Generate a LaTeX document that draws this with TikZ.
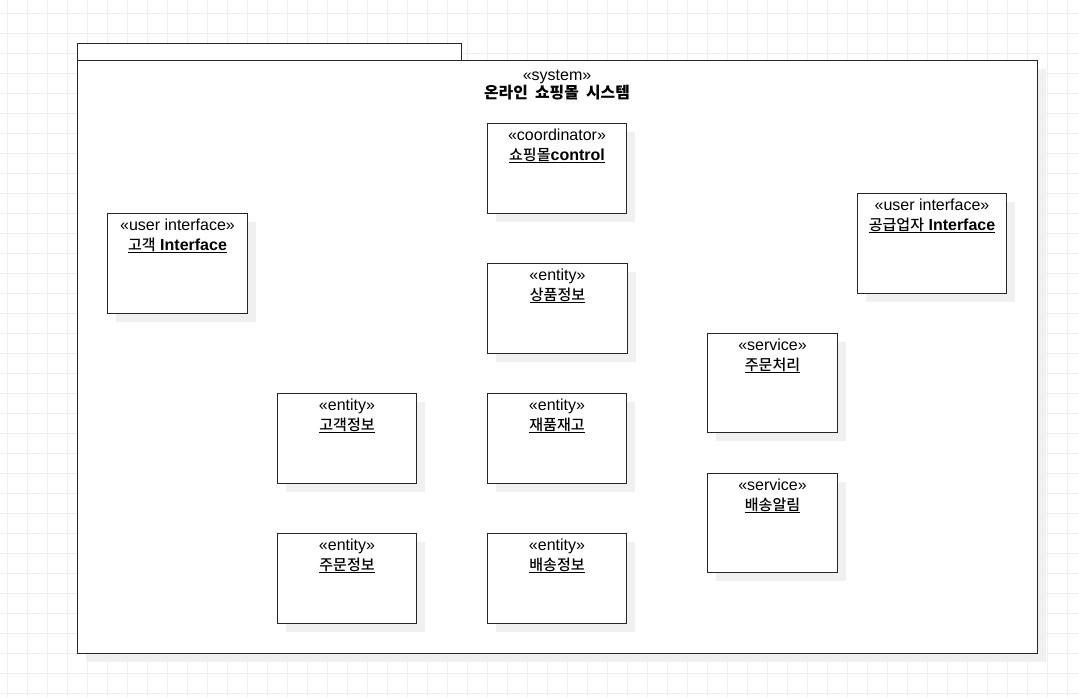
\documentclass[tikz,border=0pt]{standalone}
\usepackage{fontspec}
\setmainfont{Liberation Sans}
\newfontfamily\kr[Scale=0.94, UprightFont={* Medium}]{Noto Sans CJK KR}
\newfontfamily\krtitle[Scale=0.99, WordSpace=2]{Noto Sans CJK KR}
\usetikzlibrary{shadows}

\definecolor{gridgray}{HTML}{EEEEEE}
\definecolor{shadowgray}{HTML}{F0F0F0}

\newcommand{\txtsize}{\fontsize{16}{19}\selectfont}

\tikzset{
  gridline/.style={draw=gridgray, line width=1pt},
  obj/.style={draw=black!85, fill=white, line width=1pt, anchor=north west,
    inner sep=0pt, general shadow={fill=shadowgray, shadow xshift=8pt, shadow yshift=-8pt}},
  stereo/.style={label={[anchor=base, yshift=-17pt, inner sep=0pt, font=\txtsize]north:{«#1»}}},
  objname/.style={label={[anchor=base, yshift=-37pt, inner sep=0pt, font=\txtsize\bfseries]north:{\underline{#1}}}},
}

\begin{document}
\begin{tikzpicture}[x=1pt, y=-1pt, every node/.style={font=\txtsize}]
    \useasboundingbox (0,0) rectangle (1079,697);

    % Grid
    \foreach \gx in {7,27,...,1079} \draw[gridline] (\gx,0) -- (\gx,697);
    \foreach \gy in {13,33,...,697} \draw[gridline] (0,\gy) -- (1079,\gy);

    % Package
    \draw[draw=black!85, fill=white, line width=1pt] (77,43) rectangle (461,60);
    \node[obj, minimum width=960pt, minimum height=593pt] (sys) at (77,60) {};
    \node[anchor=base] (sysst) at (557,80) {«system»};
    \node[anchor=base, font=\txtsize\bfseries] (sysname) at (557,98) {\krtitle 온라인 쇼핑몰 시스템};

    % Control and interfaces
    \node[obj, minimum width=139pt, minimum height=90pt, stereo=coordinator,
      objname={{\kr\mdseries 쇼핑몰}control}] (ctrl) at (487,123) {};
    \node[obj, minimum width=140pt, minimum height=100pt, stereo=user interface,
      objname={{\kr\mdseries 고객} Interface}] (custui) at (107,213) {};
    \node[obj, minimum width=149pt, minimum height=100pt, stereo=user interface,
      objname={{\kr\mdseries 공급업자} Interface}] (suppui) at (857,193) {};

    % Entities
    \node[obj, minimum width=140pt, minimum height=90pt, stereo=entity,
      objname={\kr\mdseries 상품정보}] (prodinfo) at (487,263) {};
    \node[obj, minimum width=139pt, minimum height=90pt, stereo=entity,
      objname={\kr\mdseries 고객정보}] (custinfo) at (277,393) {};
    \node[obj, minimum width=139pt, minimum height=90pt, stereo=entity,
      objname={\kr\mdseries 재품재고}] (stock) at (487,393) {};
    \node[obj, minimum width=139pt, minimum height=90pt, stereo=entity,
      objname={\kr\mdseries 주문정보}] (orderinfo) at (277,533) {};
    \node[obj, minimum width=139pt, minimum height=90pt, stereo=entity,
      objname={\kr\mdseries 배송정보}] (shipinfo) at (487,533) {};

    % Services
    \node[obj, minimum width=130pt, minimum height=99pt, stereo=service,
      objname={\kr\mdseries 주문처리}] (orderproc) at (707,333) {};
    \node[obj, minimum width=130pt, minimum height=99pt, stereo=service,
      objname={\kr\mdseries 배송알림}] (shipnote) at (707,473) {};

  \end{tikzpicture}
\end{document}
